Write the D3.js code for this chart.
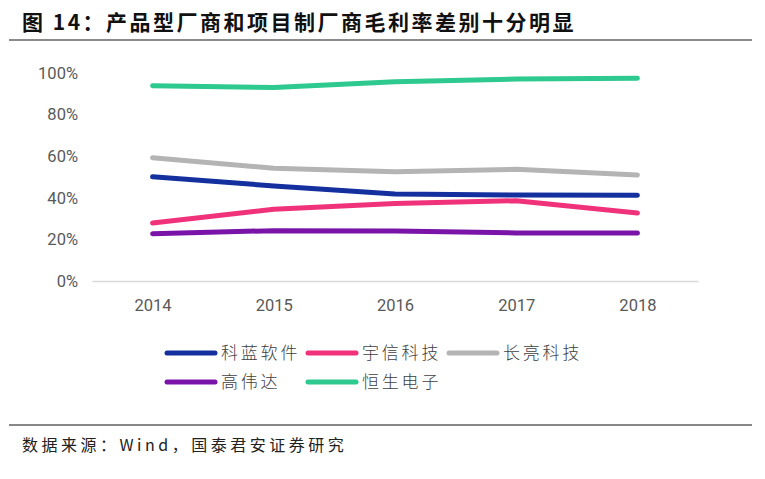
<!DOCTYPE html>
<html><head><meta charset="utf-8">
<script src="https://cdn.jsdelivr.net/npm/d3@7"></script>
<style>body{margin:0;background:#fff}</style>
</head><body>
<svg id="c" width="765" height="479"></svg>
<script>
const years = ["2014","2015","2016","2017","2018"];
const seriesNames = ["科蓝软件","宇信科技","长亮科技","高伟达","恒生电子"];
const kelan   = [50.1, 45.7, 41.8, 41.3, 41.2];
const yuxin   = [27.9, 34.5, 37.3, 38.6, 32.7];
const changliang = [59.3, 54.2, 52.5, 53.7, 51.0];
const gaoweida = [22.7, 24.2, 24.0, 23.1, 23.1];
const hengsheng = [93.9, 93.0, 95.8, 97.1, 97.5];
const yTicks = [0, 20, 40, 60, 80, 100];
const colors = ["#14309e", "#f0327a", "#b4b4b4", "#7a14a8", "#2dc98e"];
const values = [kelan, yuxin, changliang, gaoweida, hengsheng];

const svg = d3.select("#c");
const x = d3.scalePoint().domain(years).range([92, 698]).padding(0.5);
const y = d3.scaleLinear().domain([0, 100]).range([281, 73]);

// title
svg.append("text").attr("x", 22).attr("y", 30)
  .attr("font-family", "Noto Sans CJK SC").attr("font-weight", "bold")
  .attr("font-size", 21).attr("letter-spacing", 2.5).attr("fill", "#111")
  .text("图 14：产品型厂商和项目制厂商毛利率差别十分明显");
svg.append("line").attr("x1", 9).attr("x2", 752).attr("y1", 40).attr("y2", 40)
  .attr("stroke", "#8a8a8a").attr("stroke-width", 2);

// y axis labels
const yAxis = d3.axisLeft(y).tickValues(yTicks).tickFormat(d => d + "%").tickSize(0).tickPadding(0);
const ya = svg.append("g").attr("transform", "translate(78,0)").call(yAxis);
ya.select(".domain").remove();
ya.selectAll("text").attr("font-family", "Roboto").attr("font-size", 16.5).attr("fill", "#595959");

// x axis
const xAxis = d3.axisBottom(x).tickSize(0).tickPadding(18);
const xa = svg.append("g").attr("transform", "translate(0,281)").call(xAxis);
xa.select(".domain").attr("stroke", "#d9d9d9").attr("stroke-width", 1.5);
xa.selectAll("text").attr("font-family", "Roboto").attr("font-size", 16.5).attr("fill", "#595959");

// lines
const line = d3.line().x((d, i) => x(years[i])).y(d => y(d));
values.forEach((v, k) => {
  svg.append("path").datum(v).attr("d", line).attr("fill", "none")
    .attr("stroke", colors[k]).attr("stroke-width", 5)
    .attr("stroke-linecap", "round").attr("stroke-linejoin", "round");
});

// legend
const legPos = [[167, 353], [308, 353], [449, 353], [167, 382], [308, 382]];
seriesNames.forEach((n, k) => {
  const [lx, ly] = legPos[k];
  const g = svg.append("g").attr("transform", `translate(${lx},${ly})`);
  g.append("line").attr("x1", 0).attr("x2", 48).attr("y1", 0).attr("y2", 0)
    .attr("stroke", colors[k]).attr("stroke-width", 5).attr("stroke-linecap", "round");
  g.append("text").attr("x", 54).attr("y", 6)
    .attr("font-family", "Noto Sans CJK SC").attr("font-size", 17).attr("font-weight", 300)
    .attr("letter-spacing", 2.8).attr("fill", "#404040").text(n);
});

// footer
svg.append("line").attr("x1", 9).attr("x2", 752).attr("y1", 425).attr("y2", 425)
  .attr("stroke", "#111").attr("stroke-width", 1);
svg.append("text").attr("x", 22).attr("y", 451)
  .attr("font-family", "Noto Sans CJK SC").attr("font-size", 16)
  .attr("letter-spacing", 3.5).attr("fill", "#222")
  .text("数据来源：Wind，国泰君安证券研究");
</script>
</body></html>
